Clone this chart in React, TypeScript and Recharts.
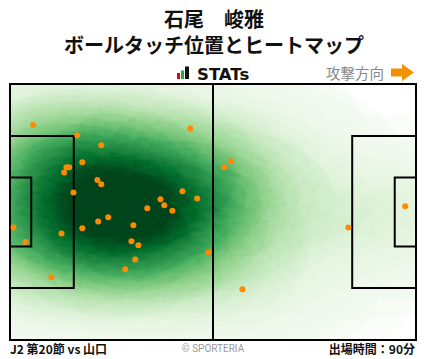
import React from 'react';
import { ScatterChart, Scatter, XAxis, YAxis, ReferenceArea, ReferenceLine } from 'recharts';

// Pitch dimensions (metres)
const PITCH_LENGTH = 105;
const PITCH_WIDTH = 68;
const PENALTY_DEPTH = 16.5;
const PENALTY_WIDTH = 40.32;
const GOAL_AREA_DEPTH = 5.5;
const GOAL_AREA_WIDTH = 18.32;

// Ball touch positions (metres; x along attack direction, y from top touchline)
const touchX = [6.0, 17.4, 46.6, 23.6, 18.7, 14.6, 15.3, 14.0, 22.6, 23.6, 16.4, 44.6, 48.4, 38.9, 39.9, 35.5, 42.0, 25.4, 22.8, 0.9, 13.3, 4.0, 18.7, 31.9, 31.4, 33.2, 32.4, 29.8, 10.7, 51.3, 57.2, 55.4, 102.2, 87.5, 60.1];
const touchY = [10.9, 13.6, 11.8, 16.3, 20.8, 22.1, 22.1, 23.5, 25.5, 26.6, 28.8, 28.5, 30.4, 30.6, 32.2, 33.0, 33.7, 35.4, 36.5, 38.1, 39.7, 42.0, 38.3, 37.5, 41.8, 42.8, 46.6, 49.2, 51.3, 44.7, 20.5, 22.1, 32.5, 38.1, 54.5];

const titleName = '石尾\u3000峻雅';
const titleSub = 'ボールタッチ位置とヒートマップ';
const brand = 'STATs';
const directionLabel = '攻撃方向';
const matchLabel = 'J2 第20節 vs 山口';
const copyright = '© SPORTERIA';
const minutesLabel = '出場時間：90分';

const touches = touchX.map((x, i) => ({ x, y: touchY[i] }));

// "Greens" colour ramp
const GREENS = [
  [247, 252, 245], [229, 245, 224], [199, 233, 192], [161, 217, 155], [116, 196, 118],
  [65, 171, 93], [35, 139, 69], [0, 109, 44], [0, 68, 27],
];
const greensAt = (t: number) => {
  const p = Math.max(0, Math.min(1, t)) * (GREENS.length - 1);
  const i = Math.min(GREENS.length - 2, Math.floor(p));
  const f = p - i;
  return GREENS[i].map((c, k) => (c + (GREENS[i + 1][k] - c) * f) / 255);
};
const GAMMA = 1.05;
const N = 40;
const ramp = Array.from({ length: N + 1 }, (_, i) => (i === 0 ? [1, 1, 1] : greensAt(Math.pow(i / N, GAMMA))));
const tableR = ramp.map((c) => c[0].toFixed(4)).join(' ');
const tableG = ramp.map((c) => c[1].toFixed(4)).join(' ');
const tableB = ramp.map((c) => c[2].toFixed(4)).join(' ');

const K = 2.35;
const A = 0.04;
const gaussStops = [1, 0.956, 0.835, 0.667, 0.487, 0.325, 0.198, 0.11, 0.056, 0.026, 0];

const DefsShape = (props: any) => {
  const { x, y, width, height } = props;
  return (
    <g>
      <defs>
        <radialGradient id="heatGrad">
          {gaussStops.map((s, i) => (
            <stop key={i} offset={i / 10} stopColor="#000" stopOpacity={s * A} />
          ))}
        </radialGradient>
        <filter
          id="heatF"
          filterUnits="userSpaceOnUse"
          x={x}
          y={y}
          width={width}
          height={height}
          colorInterpolationFilters="sRGB"
        >
          <feColorMatrix
            type="matrix"
            values={`0 0 0 ${K} 0  0 0 0 ${K} 0  0 0 0 ${K} 0  0 0 0 0 1`}
          />
          <feComponentTransfer>
            <feFuncR type="table" tableValues={tableR} />
            <feFuncG type="table" tableValues={tableG} />
            <feFuncB type="table" tableValues={tableB} />
          </feComponentTransfer>
        </filter>
      </defs>
    </g>
  );
};

const HeatShape = (props: any) => {
  const { cx, cy } = props;
  return <ellipse cx={cx} cy={cy} rx={210} ry={112} fill="url(#heatGrad)" />;
};

const DotShape = (props: any) => {
  const { cx, cy } = props;
  return <circle cx={cx} cy={cy} r={3} fill="#ff8a00" />;
};

const font = '"Noto Sans CJK JP", "Noto Sans", sans-serif';
const lineProps: any = { fill: 'none', fillOpacity: 0, stroke: '#000', strokeWidth: 2, zIndex: 700 };

export default function App() {
  const pbTop = (PITCH_WIDTH - PENALTY_WIDTH) / 2;
  const gaTop = (PITCH_WIDTH - GOAL_AREA_WIDTH) / 2;
  return (
    <div style={{ position: 'absolute', left: 0, top: 0, width: 428, height: 359, background: '#fff' }}>
      <style>{`.heat-scatter { filter: url(#heatF); }`}</style>
      <ScatterChart
        width={428}
        height={359}
        margin={{ top: 84, left: 10, right: 12, bottom: 19 }}
      >
        <XAxis type="number" dataKey="x" domain={[0, PITCH_LENGTH]} hide />
        <YAxis type="number" dataKey="y" domain={[0, PITCH_WIDTH]} reversed hide />
        <ReferenceArea x1={0} x2={PITCH_LENGTH} y1={0} y2={PITCH_WIDTH} shape={DefsShape} />
        <Scatter
          className="heat-scatter"
          data={touches}
          shape={HeatShape}
          isAnimationActive={false}
          {...({ zIndex: 50 } as any)}
        />
        <ReferenceArea x1={0} x2={PENALTY_DEPTH} y1={pbTop} y2={pbTop + PENALTY_WIDTH} {...lineProps} />
        <ReferenceArea x1={0} x2={GOAL_AREA_DEPTH} y1={gaTop} y2={gaTop + GOAL_AREA_WIDTH} {...lineProps} />
        <ReferenceArea x1={PITCH_LENGTH - PENALTY_DEPTH} x2={PITCH_LENGTH} y1={pbTop} y2={pbTop + PENALTY_WIDTH} {...lineProps} />
        <ReferenceArea x1={PITCH_LENGTH - GOAL_AREA_DEPTH} x2={PITCH_LENGTH} y1={gaTop} y2={gaTop + GOAL_AREA_WIDTH} {...lineProps} />
        <ReferenceLine x={PITCH_LENGTH / 2} stroke="#000" strokeWidth={2} {...({ zIndex: 700 } as any)} />
        <ReferenceArea x1={0} x2={PITCH_LENGTH} y1={0} y2={PITCH_WIDTH} {...lineProps} />
        <Scatter data={touches} shape={DotShape} isAnimationActive={false} {...({ zIndex: 800 } as any)} />
      </ScatterChart>
      <svg width={428} height={359} style={{ position: 'absolute', left: 0, top: 0, pointerEvents: 'none' }}>
        <text x={214} y={26.5} textAnchor="middle" fontFamily={font} fontWeight="bold" fontSize={20} fill="#111">{titleName}</text>
        <text x={214} y={53} textAnchor="middle" fontFamily={font} fontWeight="bold" fontSize={20} fill="#111">{titleSub}</text>
        <rect x={177} y={73} width={3} height={6} fill="#e60012" />
        <rect x={181} y={70.5} width={3} height={8.5} fill="#22ac38" />
        <rect x={185} y={66.5} width={4} height={12.5} fill="#111" />
        <text x={197} y={79.5} fontFamily='"DejaVu Sans", sans-serif' fontWeight="bold" fontSize={16.5} fill="#111">{brand}</text>
        <text x={326} y={78.5} fontFamily={font} fontSize={14.5} fill="#888">{directionLabel}</text>
        <polygon points="391,68.5 402,68.5 402,64 414,72.5 402,81 402,76.5 391,76.5" fill="#f39200" />
        <text x={10} y={354} fontFamily={font} fontWeight="bold" fontSize={12} fill="#111">{matchLabel}</text>
        <text x={213} y={352} textAnchor="middle" fontFamily='"Roboto", sans-serif' fontSize={10} fill="#999">{copyright}</text>
        <text x={415} y={354} textAnchor="end" fontFamily={font} fontWeight="bold" fontSize={12} fill="#111">{minutesLabel}</text>
      </svg>
    </div>
  );
}
